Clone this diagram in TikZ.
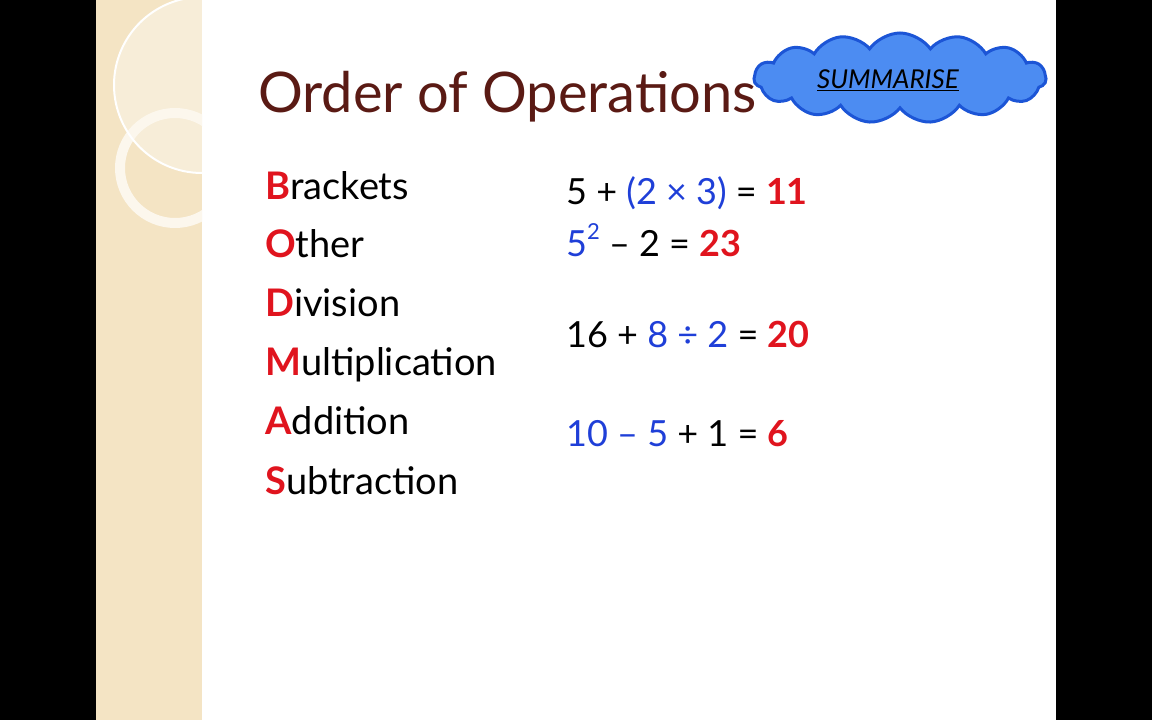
\documentclass[tikz,border=0pt]{standalone}
\usepackage{fontspec}
\setmainfont{Lato}
\usetikzlibrary{shapes.symbols}
\definecolor{rd}{HTML}{E0141E}
\definecolor{bl}{HTML}{1F3FD8}
\definecolor{tt}{HTML}{5A1A14}
\definecolor{beige}{HTML}{F4E4C4}
\definecolor{cf}{HTML}{4C8CF2}
\definecolor{cd}{HTML}{1C55D6}
\begin{document}
\begin{tikzpicture}[x=1pt,y=-1pt,
  lst/.style={anchor=base west,inner sep=0,font=\fontsize{38}{40}\selectfont},
  eq/.style={anchor=base west,inner sep=0,font=\fontsize{36}{40}\selectfont}]
\useasboundingbox (0,0) rectangle (1152,720);
\fill[black] (0,0) rectangle (1152,720);
\fill[white] (96,0) rectangle (1056,720);
\begin{scope}
\clip (96,0) rectangle (202,720);
\fill[beige] (96,0) rectangle (202,720);
\fill[white,opacity=0.35] (202,85) circle (88);
\draw[line width=10pt,white!70!beige] (175,168) circle (55);
\draw[line width=2pt,white] (202,85) circle (88);
\end{scope}
\node[tt,anchor=base west,inner sep=0,font=\fontsize{56}{60}\selectfont] (title) at (258,112) {Order of Operations};
\node[cloud,cloud puffs=15,cloud puff arc=110,aspect=3.2,draw=cd,line width=3pt,fill=cf,minimum width=292,minimum height=90] (cloud) at (900,78) {};
\node[anchor=center,inner sep=0,font=\itshape\fontsize{26}{28}\selectfont] (sum) at (888,80) {\underline{SUMMARISE}};
\node[lst] (b) at (265,199) {\textcolor{rd}{\textbf{B}}rackets};
\node[lst] (o) at (265,257) {\textcolor{rd}{\textbf{O}}ther};
\node[lst] (d) at (265,316) {\textcolor{rd}{\textbf{D}}ivision};
\node[lst] (m) at (265,375) {\textcolor{rd}{\textbf{M}}ultiplication};
\node[lst] (a) at (265,434) {\textcolor{rd}{\textbf{A}}ddition};
\node[lst] (s) at (265,494) {\textcolor{rd}{\textbf{S}}ubtraction};
\node[eq] (e1) at (566,204) {5 + \textcolor{bl}{(2 × 3)} = \textcolor{rd}{\textbf{11}}};
\node[eq] (e2) at (566,256) {\textcolor{bl}{5\raisebox{0.45em}{\fontsize{22}{24}\selectfont 2}} – 2 = \textcolor{rd}{\textbf{23}}};
\node[eq] (e3) at (566,347) {16 + \textcolor{bl}{8 ÷ 2} = \textcolor{rd}{\textbf{20}}};
\node[eq] (e4) at (566,446) {\textcolor{bl}{10 – 5} + 1 = \textcolor{rd}{\textbf{6}}};
\end{tikzpicture}
\end{document}
